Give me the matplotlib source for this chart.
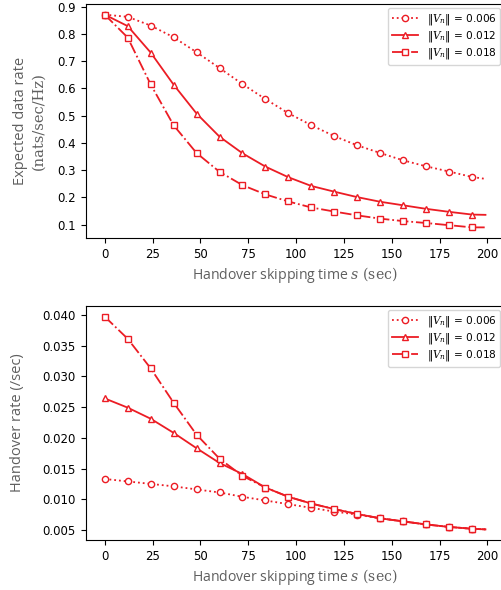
import numpy as np
import matplotlib
matplotlib.use("Agg")
import matplotlib.pyplot as plt

plt.rcParams["mathtext.fontset"] = "custom"
plt.rcParams["mathtext.rm"] = "DejaVu Serif"
plt.rcParams["mathtext.it"] = "DejaVu Serif:italic"

# 数据: 标记点每 12 秒一个, 末端 199
s = [0, 12, 24, 36, 48, 60, 72, 84, 96, 108, 120, 132, 144, 156, 168, 180, 192, 199]

rate_006 = [0.871, 0.863, 0.831, 0.788, 0.733, 0.675, 0.616, 0.561, 0.509, 0.465,
            0.425, 0.391, 0.363, 0.336, 0.314, 0.295, 0.275, 0.268]
rate_012 = [0.871, 0.829, 0.732, 0.614, 0.508, 0.423, 0.362, 0.313, 0.274, 0.242,
            0.221, 0.201, 0.184, 0.171, 0.158, 0.147, 0.137, 0.136]
rate_018 = [0.871, 0.787, 0.615, 0.465, 0.363, 0.294, 0.245, 0.211, 0.185, 0.163,
            0.148, 0.134, 0.122, 0.113, 0.106, 0.098, 0.090, 0.090]

ho_006 = [0.0133, 0.0129, 0.0125, 0.0121, 0.0116, 0.0111, 0.0104, 0.0098, 0.0092, 0.0086,
          0.0080, 0.0075, 0.0069, 0.0064, 0.0059, 0.0055, 0.0052, 0.0051]
ho_012 = [0.0264, 0.0249, 0.0231, 0.0208, 0.0183, 0.0159, 0.0141, 0.0119, 0.0104, 0.0093,
          0.0084, 0.0076, 0.0069, 0.0064, 0.0059, 0.0055, 0.0052, 0.0051]
ho_018 = [0.0397, 0.0361, 0.0313, 0.0257, 0.0205, 0.0166, 0.0138, 0.0119, 0.0104, 0.0093,
          0.0084, 0.0076, 0.0069, 0.0064, 0.0059, 0.0055, 0.0052, 0.0051]

labels = [r"$\|V_n\|$ = 0.006", r"$\|V_n\|$ = 0.012", r"$\|V_n\|$ = 0.018"]
styles = [(":", "o"), ("-", "^"), ("-.", "s")]
RED = "#ec1c24"
GREY = "#5f5f5f"
mk = list(range(len(s) - 1))  # 最后一点不画标记

fig = plt.figure(figsize=(5.01, 5.90), dpi=100)
ax1 = fig.add_axes([0.171, 0.5966, 0.836, 0.3966])
ax2 = fig.add_axes([0.171, 0.0847, 0.836, 0.3967])


def draw(ax, series, ylabel):
    for y, (ls, m), lab in zip(series, styles, labels):
        ax.plot(s, y, ls=ls, marker=m, color=RED, lw=1.3, ms=4.5,
                mfc="white", mec=RED, mew=1.0, markevery=mk, label=lab)
    ax.tick_params(labelsize=8.5)
    ax.set_xticks([0, 25, 50, 75, 100, 125, 150, 175, 200])
    ax.set_xlabel(r"Handover skipping time $s\ \mathrm{(sec)}$", fontsize=10.1,
                  color=GREY, family="Open Sans", labelpad=3)
    ax.set_ylabel(ylabel, fontsize=10.5, color=GREY, family="Open Sans")
    ax.legend(loc="upper right", fontsize=7.6, handlelength=2.5, borderpad=0.35,
              labelspacing=0.2, borderaxespad=0.4)


draw(ax1, [rate_006, rate_012, rate_018], "Expected data rate")
ax1.set_yticks([0.1, 0.2, 0.3, 0.4, 0.5, 0.6, 0.7, 0.8, 0.9])
ax1.yaxis.set_label_coords(-0.137, 0.5)
# 第二行单位 (衬线体)
ax1.text(-0.095, 0.5, "(nats/sec/Hz)", transform=ax1.transAxes, rotation=90,
         ha="right", va="center", fontsize=10.5, color=GREY, family="DejaVu Serif")

draw(ax2, [ho_006, ho_012, ho_018], "Handover rate (/sec)")
ax2.set_yticks([0.005, 0.010, 0.015, 0.020, 0.025, 0.030, 0.035, 0.040])
ax2.yaxis.set_major_formatter(matplotlib.ticker.FormatStrFormatter("%.3f"))
ax2.yaxis.set_label_coords(-0.145, 0.5)

fig.savefig("out.png", dpi=100)
